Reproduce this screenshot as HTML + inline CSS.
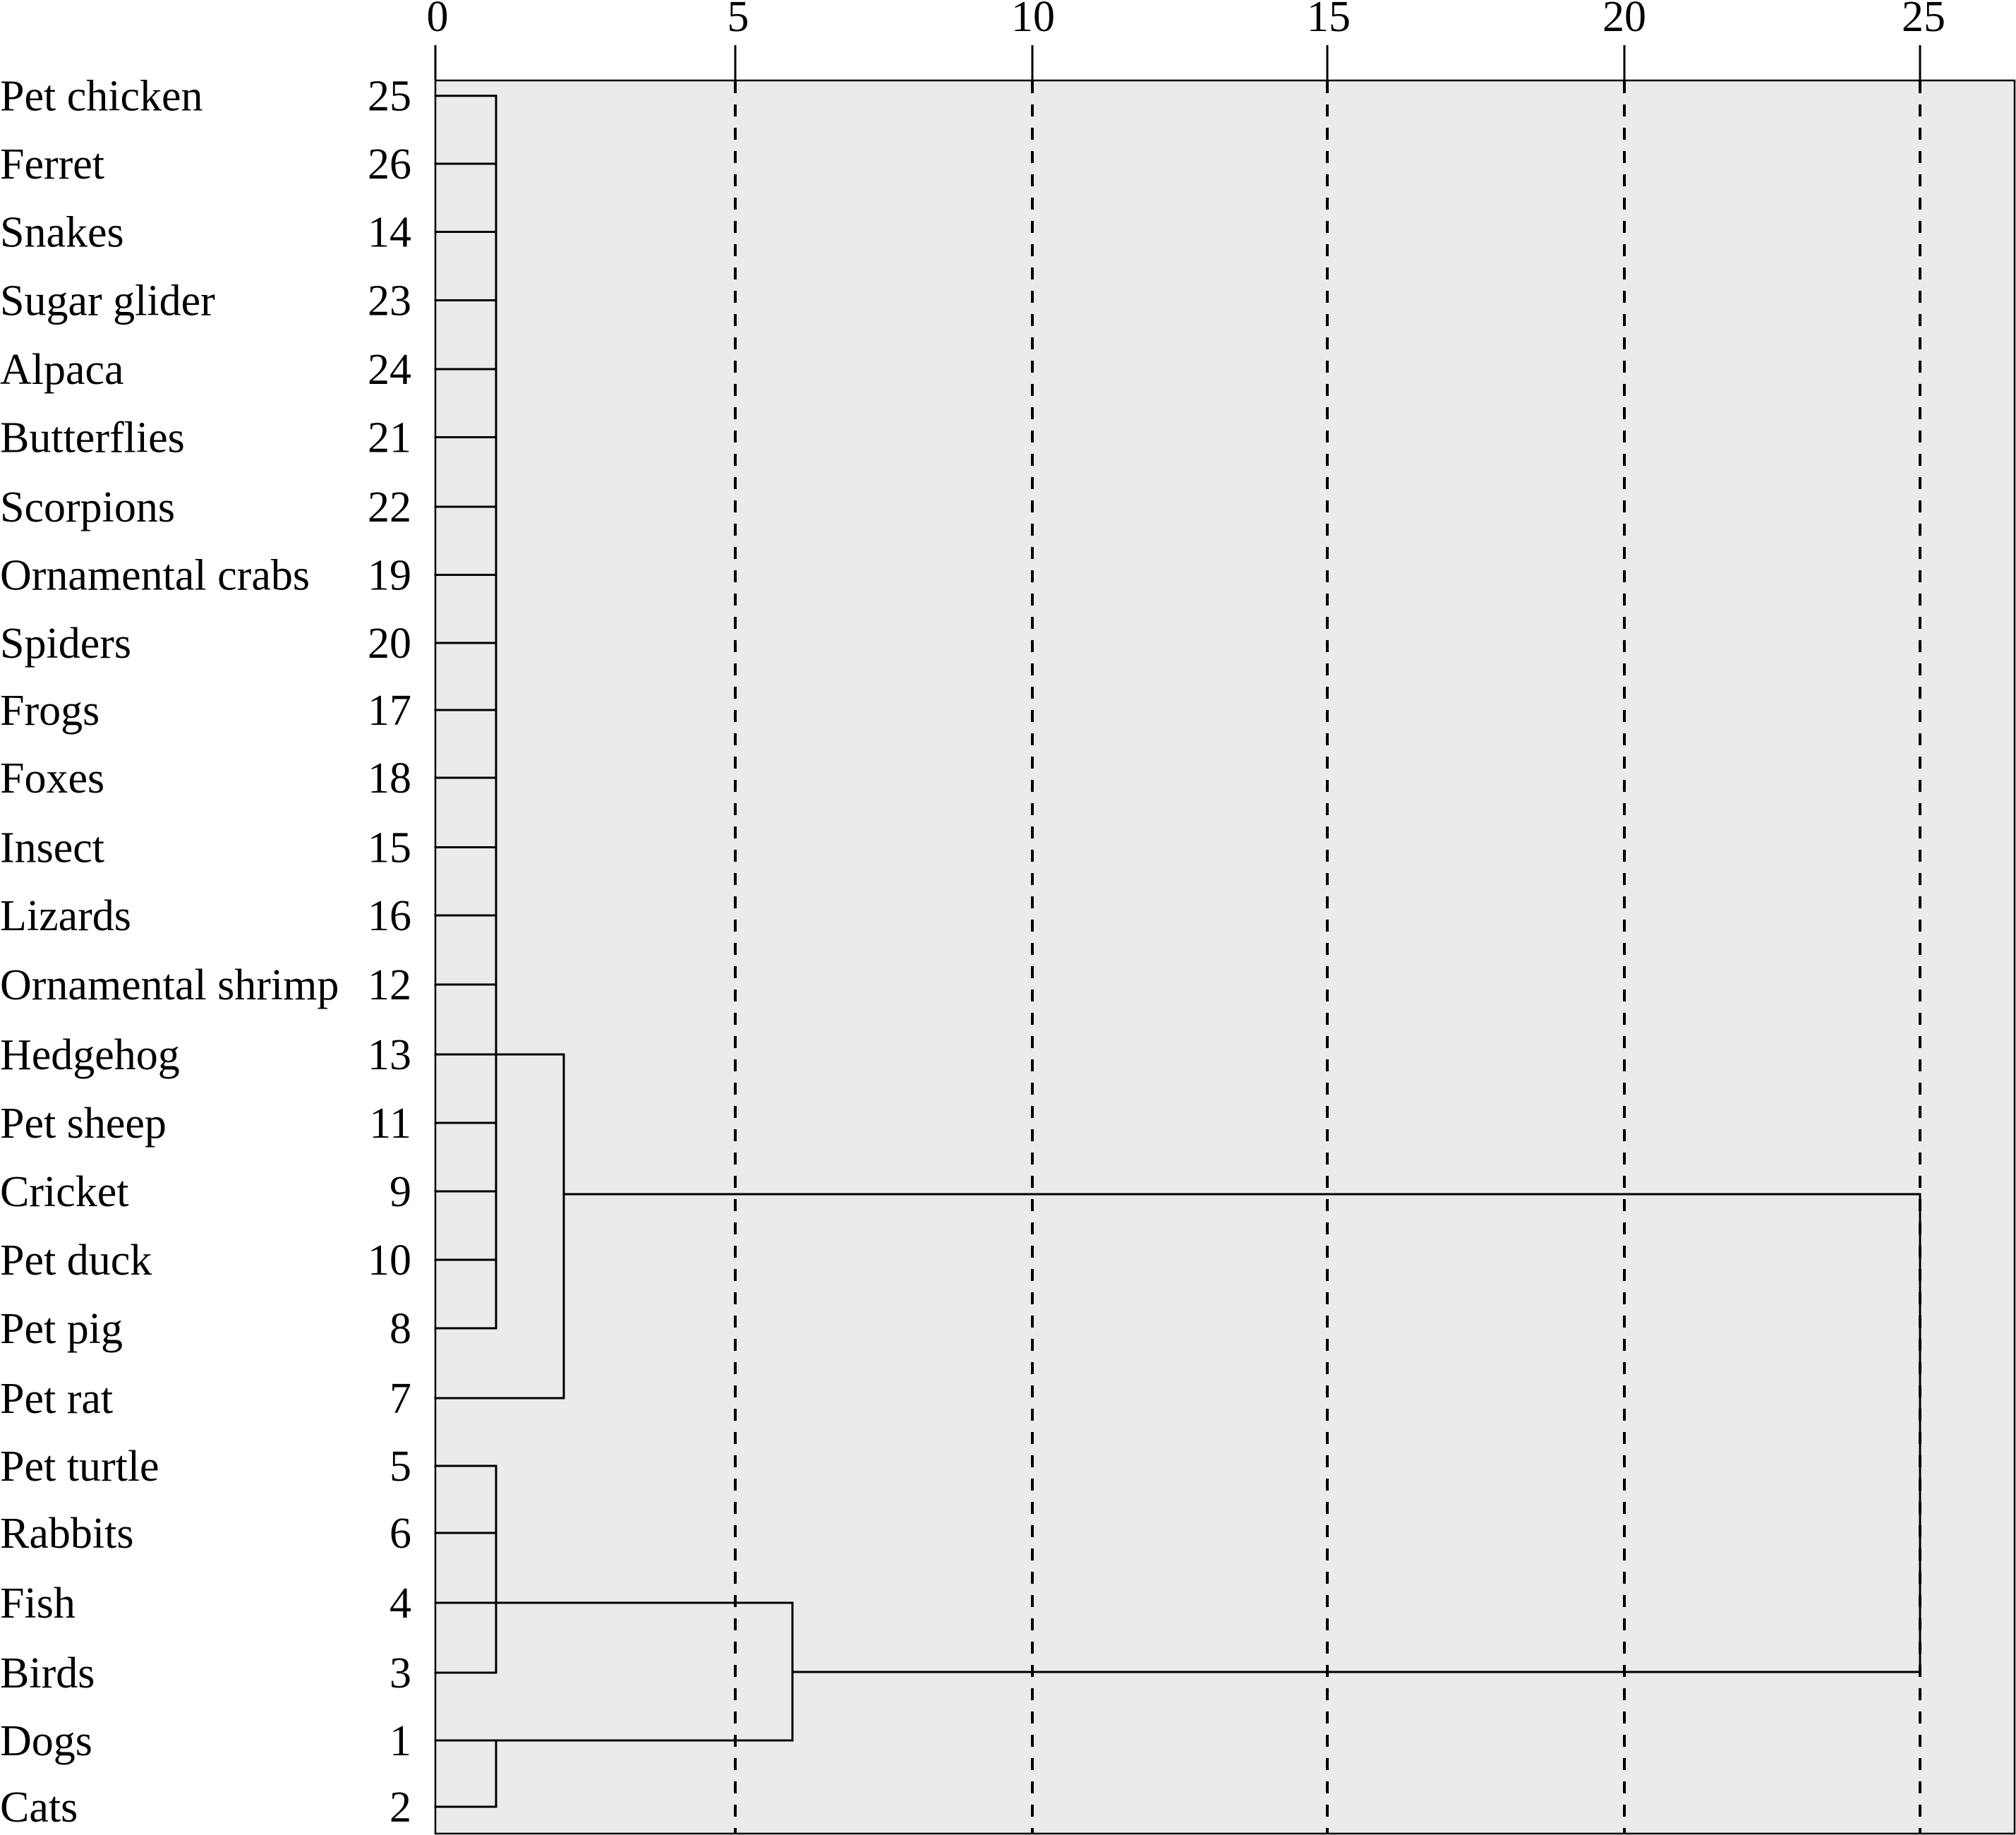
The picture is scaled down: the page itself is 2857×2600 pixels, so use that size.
<!DOCTYPE html>
<html>
<head>
<meta charset="utf-8">
<style>
html,body{margin:0;padding:0;background:#fff;}
svg{display:block;}
text{font-family:"Liberation Serif","Times New Roman",serif;font-size:62px;fill:#000;}
</style>
</head>
<body>
<svg width="2857" height="2600" viewBox="0 0 2857 2600" xmlns="http://www.w3.org/2000/svg">
<!-- plot frame -->
<rect x="617" y="114" width="2238" height="2484" fill="#ebebeb" stroke="#000" stroke-width="2.5"/>
<!-- ticks -->
<g stroke="#000" stroke-width="3">
<line x1="617" y1="64" x2="617" y2="114"/>
<line x1="1042" y1="64" x2="1042" y2="114"/>
<line x1="1463" y1="64" x2="1463" y2="114"/>
<line x1="1881" y1="64" x2="1881" y2="114"/>
<line x1="2302" y1="64" x2="2302" y2="114"/>
<line x1="2721" y1="64" x2="2721" y2="114"/>
</g>
<!-- tick labels -->
<g text-anchor="middle">
<text x="620" y="44">0</text>
<text x="1046" y="44">5</text>
<text x="1464" y="44">10</text>
<text x="1883" y="44">15</text>
<text x="2302" y="44">20</text>
<text x="2726" y="44">25</text>
</g>
<!-- dashed grid -->
<g stroke="#000" stroke-width="4" stroke-dasharray="17 16">
<line x1="1042" y1="115" x2="1042" y2="2597"/>
<line x1="1463" y1="115" x2="1463" y2="2597"/>
<line x1="1881" y1="115" x2="1881" y2="2597"/>
<line x1="2302" y1="115" x2="2302" y2="2597"/>
<line x1="2721" y1="115" x2="2721" y2="2597"/>
</g>
<!-- dendrogram -->
<g stroke="#000" stroke-width="3" fill="none" stroke-linecap="square">
<!-- cluster A leaves -->
<line x1="617" y1="135.7" x2="703" y2="135.7"/>
<line x1="617" y1="232" x2="703" y2="232"/>
<line x1="617" y1="328.5" x2="703" y2="328.5"/>
<line x1="617" y1="425.5" x2="703" y2="425.5"/>
<line x1="617" y1="523" x2="703" y2="523"/>
<line x1="617" y1="619.5" x2="703" y2="619.5"/>
<line x1="617" y1="718" x2="703" y2="718"/>
<line x1="617" y1="814.5" x2="703" y2="814.5"/>
<line x1="617" y1="911" x2="703" y2="911"/>
<line x1="617" y1="1006" x2="703" y2="1006"/>
<line x1="617" y1="1102" x2="703" y2="1102"/>
<line x1="617" y1="1200.5" x2="703" y2="1200.5"/>
<line x1="617" y1="1297" x2="703" y2="1297"/>
<line x1="617" y1="1395" x2="703" y2="1395"/>
<line x1="617" y1="1494" x2="799" y2="1494"/>
<line x1="617" y1="1591" x2="703" y2="1591"/>
<line x1="617" y1="1688" x2="703" y2="1688"/>
<line x1="617" y1="1785" x2="703" y2="1785"/>
<line x1="617" y1="1882" x2="703" y2="1882"/>
<line x1="703" y1="135.7" x2="703" y2="1882"/>
<!-- pet rat -->
<line x1="617" y1="1981" x2="799" y2="1981"/>
<line x1="799" y1="1494" x2="799" y2="1981"/>
<line x1="799" y1="1692" x2="2721" y2="1692"/>
<!-- cluster B -->
<line x1="617" y1="2077" x2="703" y2="2077"/>
<line x1="617" y1="2172" x2="703" y2="2172"/>
<line x1="617" y1="2271" x2="1123" y2="2271"/>
<line x1="617" y1="2370" x2="703" y2="2370"/>
<line x1="703" y1="2077" x2="703" y2="2370"/>
<line x1="617" y1="2466" x2="1123" y2="2466"/>
<line x1="617" y1="2560" x2="703" y2="2560"/>
<line x1="703" y1="2466" x2="703" y2="2560"/>
<line x1="1123" y1="2271" x2="1123" y2="2466"/>
<line x1="1123" y1="2369" x2="2721" y2="2369"/>
<!-- final join -->
<line x1="2721" y1="1692" x2="2721" y2="2369"/>
</g>
<!-- row labels -->
<g>
<text x="0" y="156.7">Pet chicken</text>
<text x="0" y="253">Ferret</text>
<text x="0" y="349.5">Snakes</text>
<text x="0" y="446.5">Sugar glider</text>
<text x="0" y="544">Alpaca</text>
<text x="0" y="640.5">Butterflies</text>
<text x="0" y="739">Scorpions</text>
<text x="0" y="835.5">Ornamental crabs</text>
<text x="0" y="932">Spiders</text>
<text x="0" y="1027">Frogs</text>
<text x="0" y="1123">Foxes</text>
<text x="0" y="1221.5">Insect</text>
<text x="0" y="1318">Lizards</text>
<text x="0" y="1416">Ornamental shrimp</text>
<text x="0" y="1515">Hedgehog</text>
<text x="0" y="1612">Pet sheep</text>
<text x="0" y="1709">Cricket</text>
<text x="0" y="1806">Pet duck</text>
<text x="0" y="1903">Pet pig</text>
<text x="0" y="2002">Pet rat</text>
<text x="0" y="2098">Pet turtle</text>
<text x="0" y="2193">Rabbits</text>
<text x="0" y="2292">Fish</text>
<text x="0" y="2391">Birds</text>
<text x="0" y="2487">Dogs</text>
<text x="0" y="2581">Cats</text>
</g>
<g text-anchor="end">
<text x="583" y="156.7">25</text>
<text x="583" y="253">26</text>
<text x="583" y="349.5">14</text>
<text x="583" y="446.5">23</text>
<text x="583" y="544">24</text>
<text x="583" y="640.5">21</text>
<text x="583" y="739">22</text>
<text x="583" y="835.5">19</text>
<text x="583" y="932">20</text>
<text x="583" y="1027">17</text>
<text x="583" y="1123">18</text>
<text x="583" y="1221.5">15</text>
<text x="583" y="1318">16</text>
<text x="583" y="1416">12</text>
<text x="583" y="1515">13</text>
<text x="583" y="1612">11</text>
<text x="583" y="1709">9</text>
<text x="583" y="1806">10</text>
<text x="583" y="1903">8</text>
<text x="583" y="2002">7</text>
<text x="583" y="2098">5</text>
<text x="583" y="2193">6</text>
<text x="583" y="2292">4</text>
<text x="583" y="2391">3</text>
<text x="583" y="2487">1</text>
<text x="583" y="2581">2</text>
</g>
</svg>
</body>
</html>
